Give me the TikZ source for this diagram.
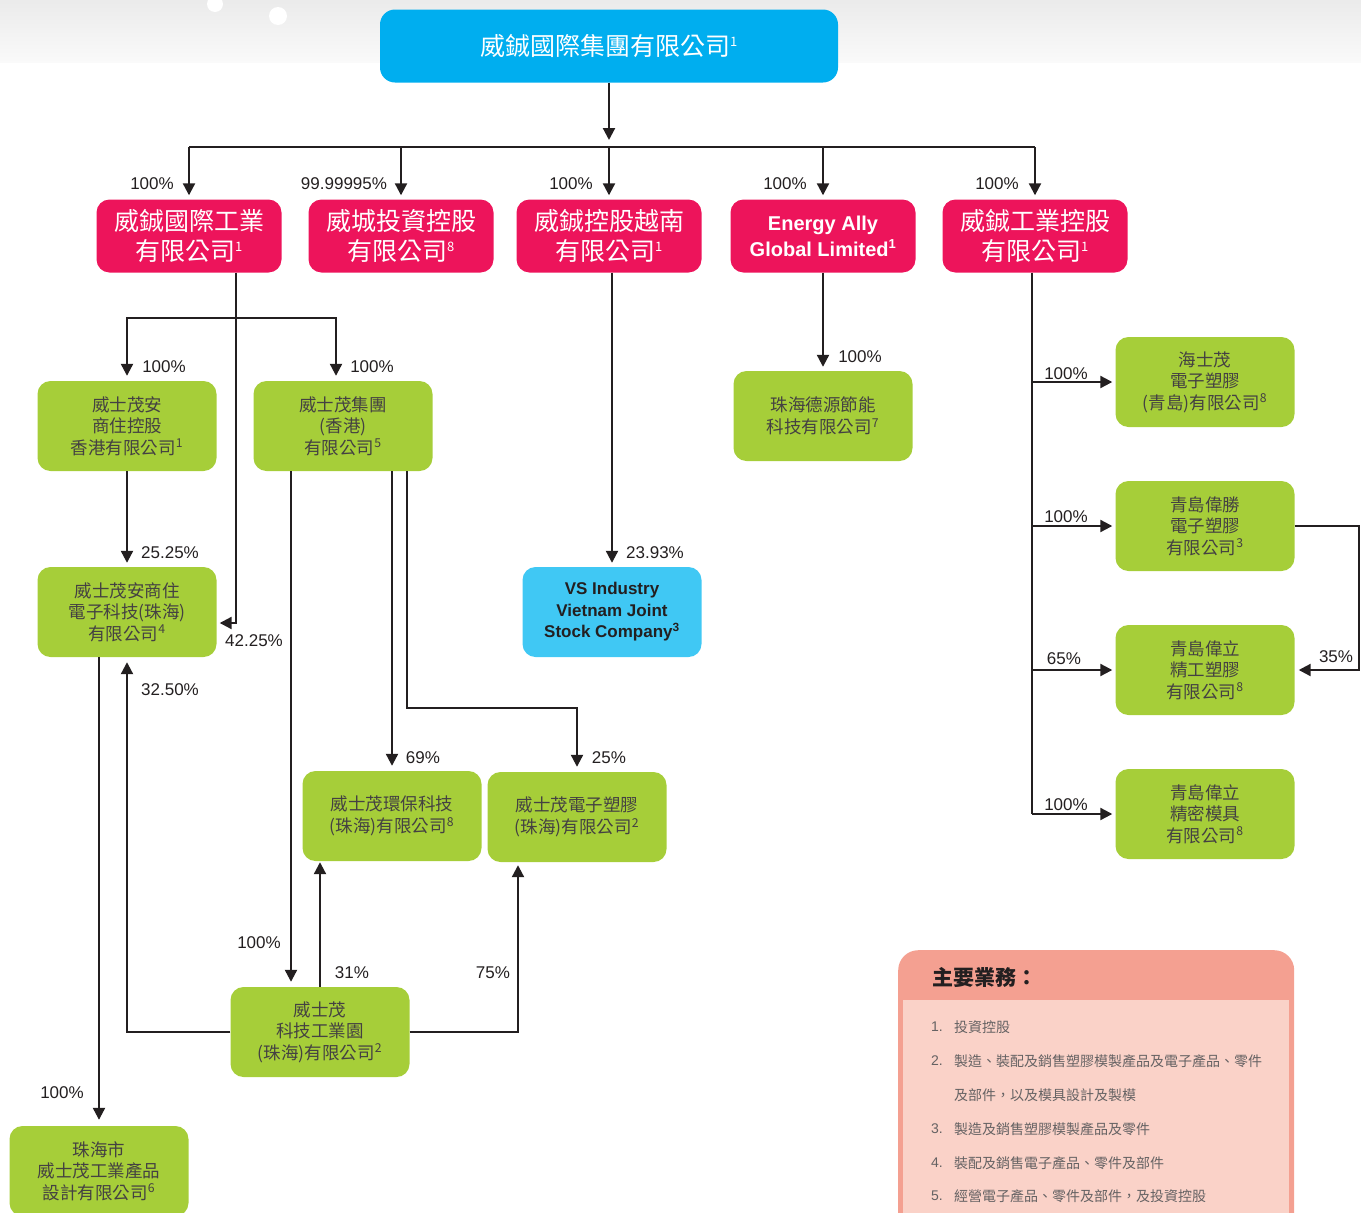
\documentclass[tikz,border=0pt]{standalone}
\usepackage{fontspec}
\setmainfont{Liberation Sans}
\newfontfamily\cjk{Noto Sans CJK TC}
\usetikzlibrary{arrows.meta,calc,positioning}

\definecolor{topblue}{HTML}{00AEEF}
\definecolor{firmred}{HTML}{ED145B}
\definecolor{firmgreen}{HTML}{A6CE39}
\definecolor{vsblue}{HTML}{40C8F4}
\definecolor{salmon}{HTML}{F4A091}
\definecolor{palepink}{HTML}{FAD2C8}
\definecolor{ink}{HTML}{231F20}

\newcommand\notemark[1]{\textsuperscript{\fontsize{13}{13}\selectfont #1}}

\begin{document}
\begin{tikzpicture}[x=1pt,y=-1pt,
    redfirm/.style={rectangle,rounded corners=13pt,fill=firmred,text=white,
      minimum width=185pt,minimum height=73pt,inner sep=0pt,align=center,
      font=\cjk\fontsize{25}{30}\selectfont},
    greenfirm/.style={rectangle,rounded corners=13pt,fill=firmgreen,text=ink!85,
      minimum width=179pt,minimum height=90pt,inner sep=0pt,align=center,
      font=\cjk\fontsize{17.5}{21.5}\selectfont},
    pct/.style={font=\fontsize{17}{17}\selectfont,text=ink,inner sep=0pt},
    bizitem/.style={anchor=west,inner sep=0pt,text=ink!70,font=\cjk\fontsize{14}{14}\selectfont},
    link/.style={draw=ink,line width=2.2pt},
    own/.style={link,-{Triangle[length=12pt,width=12pt]}}]
          \useasboundingbox (0,0) rectangle (1361,1213);
          \shade[top color=black!8,bottom color=black!2] (0,0) rectangle (1361,62);
          \fill[white] (215,4) circle (8);
          \fill[white] (278,16) circle (9);

          \node (grp) [rectangle,rounded corners=15pt,fill=topblue,text=white,minimum width=458pt,
            minimum height=73pt,font=\cjk\fontsize{25}{30}\selectfont] at (609,46)
            {威鋮國際集團有限公司\notemark{1}};

          \node (wiind) [redfirm] at (189,236) {威鋮國際工業\\有限公司\notemark{1}};
          \node (wcinv) [redfirm] at (401,236) {威城投資控股\\有限公司\notemark{8}};
          \node (wivn) [redfirm] at (609,236) {威鋮控股越南\\有限公司\notemark{1}};
          \node (energy) [redfirm,font=\bfseries\fontsize{20}{26}\selectfont] at (823,236)
            {Energy Ally\\Global Limited\notemark{1}};
          \node (wihold) [redfirm] at (1035,236) {威鋮工業控股\\有限公司\notemark{1}};

          \node (hkhold) [greenfirm] at (127,426) {威士茂安\\商住控股\\香港有限公司\textsuperscript{1}};
          \node (hkgrp) [greenfirm] at (343,426) {威士茂集團\\(香港)\\有限公司\textsuperscript{5}};
          \node (zhcom) [greenfirm] at (127,612) {威士茂安商住\\電子科技(珠海)\\有限公司\textsuperscript{4}};
          \node (zhdy) [greenfirm] at (823,416) {珠海德源節能\\科技有限公司\textsuperscript{7}};
          \node (vsvn) [greenfirm,fill=vsblue,text=ink,font=\bfseries\fontsize{17}{21.5}\selectfont]
            at (612,612) {VS Industry\\Vietnam Joint\\Stock Company\textsuperscript{3}};
          \node (qdhai) [greenfirm] at (1205,382) {海士茂\\電子塑膠\\(青島)有限公司\textsuperscript{8}};
          \node (qdws) [greenfirm] at (1205,526) {青島偉勝\\電子塑膠\\有限公司\textsuperscript{3}};
          \node (qdjg) [greenfirm] at (1205,670) {青島偉立\\精工塑膠\\有限公司\textsuperscript{8}};
          \node (qdmj) [greenfirm] at (1205,814) {青島偉立\\精密模具\\有限公司\textsuperscript{8}};
          \node (zhenv) [greenfirm] at (392,816) {威士茂環保科技\\(珠海)有限公司\textsuperscript{8}};
          \node (zhep) [greenfirm] at (577,817) {威士茂電子塑膠\\(珠海)有限公司\textsuperscript{2}};
          \node (zhpark) [greenfirm] at (320,1032) {威士茂\\科技工業園\\(珠海)有限公司\textsuperscript{2}};
          \node (zhdes) [greenfirm] at (99,1171) {珠海市\\威士茂工業產品\\設計有限公司\textsuperscript{6}};

          % holdings
          \node (p1) [pct] at (152,184) {100\%};
          \node (p2) [pct] at (344,184) {99.99995\%};
          \node (p3) [pct] at (571,184) {100\%};
          \node (p4) [pct] at (785,184) {100\%};
          \node (p5) [pct] at (997,184) {100\%};
          \node (p6) [pct] at (164,367) {100\%};
          \node (p7) [pct] at (372,367) {100\%};
          \node (p8) [pct] at (170,553) {25.25\%};
          \node (p9) [pct] at (254,641) {42.25\%};
          \node (p10) [pct] at (170,690) {32.50\%};
          \node (p11) [pct] at (655,553) {23.93\%};
          \node (p12) [pct] at (860,357) {100\%};
          \node (p13) [pct] at (1066,374) {100\%};
          \node (p14) [pct] at (1066,517) {100\%};
          \node (p15) [pct] at (1064,659) {65\%};
          \node (p16) [pct] at (1066,805) {100\%};
          \node (p17) [pct] at (1336,657) {35\%};
          \node (p18) [pct] at (423,758) {69\%};
          \node (p19) [pct] at (609,758) {25\%};
          \node (p20) [pct] at (259,943) {100\%};
          \node (p21) [pct] at (352,973) {31\%};
          \node (p22) [pct] at (493,973) {75\%};
          \node (p23) [pct] at (62,1093) {100\%};

          \coordinate (bus) at (609,147);
          \coordinate (split) at (236,318);
          \coordinate (bend) at (236,623);
          \coordinate (laneA) at (291,0);
          \coordinate (elbow) at (407,708);
          \coordinate (laneD) at (518,0);
          \coordinate (trunk) at (1032,0);
          \coordinate (loop) at (1359,0);

          \draw[own,shorten >=7pt] (grp) -- (bus);
          \draw[link] (bus -| wiind) -- (bus -| wihold);
          \foreach \f in {wiind,wcinv,wivn,energy,wihold}
            \draw[own,shorten >=4pt] (bus -| \f) -- (\f);

          \draw[own,shorten >=3pt] (wiind.south -| split) -- (bend) -- (zhcom.east |- bend);
          \draw[own,shorten >=5pt] (split) -| (hkhold.north);
          \draw[own,shorten >=5pt] (split) -| ($(hkgrp.north)+(-7,0)$);
          \draw[own,shorten >=4pt] (hkhold) -- (zhcom);
          \draw[own,shorten >=6pt] (zhcom.south -| zhdes) -- (zhdes);
          \draw[own,shorten >=5pt] (zhpark.west) -| (zhcom.south);

          \draw[own,shorten >=5pt] (hkgrp.south -| laneA) -- (zhpark.north -| laneA);
          \draw[own,shorten >=5pt] (hkgrp.south -| zhenv) -- (zhenv);
          \draw[own,shorten >=5pt] (hkgrp.south -| elbow) -- (elbow) -| (zhep);
          \draw[own,shorten >=1pt] (zhpark.north) -- (zhenv.south -| zhpark);
          \draw[own,shorten >=3pt] (zhpark.east) -| (zhep.south -| laneD);

          \draw[own,shorten >=4pt] (wivn.south -| vsvn) -- (vsvn);
          \draw[own,shorten >=4pt] (energy) -- (zhdy);
          \draw[link] (wihold.south -| trunk) -- (qdmj.west -| trunk);
          \foreach \q in {qdhai,qdws,qdjg,qdmj}
            \draw[own,shorten >=3pt] (\q.west -| trunk) -- (\q.west);
          \draw[own,shorten >=4pt] (qdws.east) -- (qdws.east -| loop) |- (qdjg.east);

          % principal activities
          \node (legend) [rectangle,rounded corners=20pt,fill=salmon,minimum width=396pt,
            minimum height=290pt,inner sep=0pt,anchor=north west] at (898,950) {};
          \fill[palepink] (903,1000) rectangle (1289,1245);
          \node (legtitle) [anchor=west,inner sep=0pt,text=ink,font=\cjk\bfseries\fontsize{21}{21}\selectfont]
            at (932,977) {主要業務：};
          \node (n1) [bizitem,font=\fontsize{14}{14}\selectfont] at (931,1027) {1.};
          \node (b1) [bizitem] at (954,1027) {投資控股};
          \node (n2) [bizitem,font=\fontsize{14}{14}\selectfont] at (931,1061) {2.};
          \node (b2) [bizitem] at (954,1061) {製造、裝配及銷售塑膠模製產品及電子產品、零件};
          \node (b2b) [bizitem] at (954,1095) {及部件，以及模具設計及製模};
          \node (n3) [bizitem,font=\fontsize{14}{14}\selectfont] at (931,1129) {3.};
          \node (b3) [bizitem] at (954,1129) {製造及銷售塑膠模製產品及零件};
          \node (n4) [bizitem,font=\fontsize{14}{14}\selectfont] at (931,1163) {4.};
          \node (b4) [bizitem] at (954,1163) {裝配及銷售電子產品、零件及部件};
          \node (n5) [bizitem,font=\fontsize{14}{14}\selectfont] at (931,1196) {5.};
          \node (b5) [bizitem] at (954,1196) {經營電子產品、零件及部件，及投資控股};
        \end{tikzpicture}
\end{document}
